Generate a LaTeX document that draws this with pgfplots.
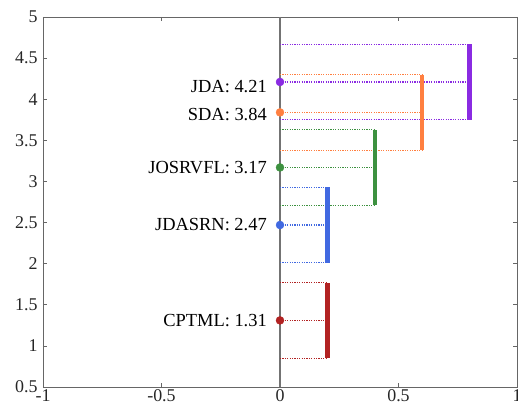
\documentclass[border=0pt]{standalone}
\usepackage{pgfplots}
\pgfplotsset{compat=1.18}
\usepackage{fontspec}
\setmainfont{Liberation Serif}
\definecolor{cJDA}{RGB}{138,43,226}
\definecolor{cSDA}{RGB}{255,127,64}
\definecolor{cJOS}{RGB}{61,145,64}
\definecolor{cJDASRN}{RGB}{65,105,225}
\definecolor{cCPT}{RGB}{178,34,34}
\tikzset{cdline/.style={#1, line width=1.2bp, dash pattern=on 1.2bp off 1.2bp}}
\begin{document}
\begin{tikzpicture}
\begin{axis}[
  scale only axis, width=474bp, height=370bp,
  xmin=-1, xmax=1, ymin=0.5, ymax=5,
  xtick={-1,-0.5,0,0.5,1}, ytick={0.5,1,1.5,2,2.5,3,3.5,4,4.5,5},
  xticklabels={\textrm{-1},\textrm{-0.5},\textrm{0},\textrm{0.5},\textrm{1}},
  yticklabels={\textrm{0.5},\textrm{1},\textrm{1.5},\textrm{2},\textrm{2.5},\textrm{3},\textrm{3.5},\textrm{4},\textrm{4.5},\textrm{5}},
  tick align=inside, major tick length=4bp,
  axis line style={black!60, line width=0.6bp},
  tick style={black!60, line width=0.6bp},
  ticklabel style={font=\fontsize{18}{21}\selectfont, text=black!85},
  xticklabel style={yshift=1bp},
  yticklabel style={xshift=-2bp},
  clip=false,
]
% vertical line at 0
\addplot[black!55, line width=1.2bp] coordinates {(0,0.5) (0,5)};
% JDA
\addplot[cdline=cJDA] coordinates {(0,4.67) (0.8,4.67)};
\addplot[cdline=cJDA] coordinates {(0,4.21) (0.8,4.21)};
\addplot[cdline=cJDA] coordinates {(0,3.75) (0.8,3.75)};
\addplot[cJDA, line width=4.5bp] coordinates {(0.8,3.75) (0.8,4.67)};
% SDA
\addplot[cdline=cSDA] coordinates {(0,4.30) (0.6,4.30)};
\addplot[cdline=cSDA] coordinates {(0,3.84) (0.6,3.84)};
\addplot[cdline=cSDA] coordinates {(0,3.38) (0.6,3.38)};
\addplot[cSDA, line width=4.5bp] coordinates {(0.6,3.38) (0.6,4.30)};
% JOSRVFL
\addplot[cdline=cJOS] coordinates {(0,3.63) (0.4,3.63)};
\addplot[cdline=cJOS] coordinates {(0,3.17) (0.4,3.17)};
\addplot[cdline=cJOS] coordinates {(0,2.71) (0.4,2.71)};
\addplot[cJOS, line width=4.5bp] coordinates {(0.4,2.71) (0.4,3.63)};
% JDASRN
\addplot[cdline=cJDASRN] coordinates {(0,2.93) (0.2,2.93)};
\addplot[cdline=cJDASRN] coordinates {(0,2.47) (0.2,2.47)};
\addplot[cdline=cJDASRN] coordinates {(0,2.01) (0.2,2.01)};
\addplot[cJDASRN, line width=4.5bp] coordinates {(0.2,2.01) (0.2,2.93)};
% CPTML
\addplot[cdline=cCPT] coordinates {(0,1.77) (0.2,1.77)};
\addplot[cdline=cCPT] coordinates {(0,1.31) (0.2,1.31)};
\addplot[cdline=cCPT] coordinates {(0,0.85) (0.2,0.85)};
\addplot[cCPT, line width=4.5bp] coordinates {(0.2,0.85) (0.2,1.77)};
% points
\addplot[only marks, mark=*, mark size=4bp, cJDA] coordinates {(0,4.21)};
\addplot[only marks, mark=*, mark size=4bp, cSDA] coordinates {(0,3.84)};
\addplot[only marks, mark=*, mark size=4bp, cJOS] coordinates {(0,3.17)};
\addplot[only marks, mark=*, mark size=4bp, cJDASRN] coordinates {(0,2.47)};
\addplot[only marks, mark=*, mark size=4bp, cCPT] coordinates {(0,1.31)};
% labels
\begin{scope}[every node/.style={anchor=east, font=\fontsize{18.5}{21}\selectfont, inner sep=0pt}]
\node at (axis cs:-0.055,4.16) {JDA: 4.21};
\node at (axis cs:-0.055,3.82) {SDA: 3.84};
\node at (axis cs:-0.055,3.17) {JOSRVFL: 3.17};
\node at (axis cs:-0.055,2.47) {JDASRN: 2.47};
\node at (axis cs:-0.055,1.31) {CPTML: 1.31};
\end{scope}
\end{axis}
\pgfresetboundingbox
\path (current axis.south west) ++(-43bp,-27bp) coordinate (bl);
\path (current axis.north east) ++(1bp,17bp) coordinate (tr);
\useasboundingbox (bl) rectangle (tr);
\end{tikzpicture}
\end{document}
